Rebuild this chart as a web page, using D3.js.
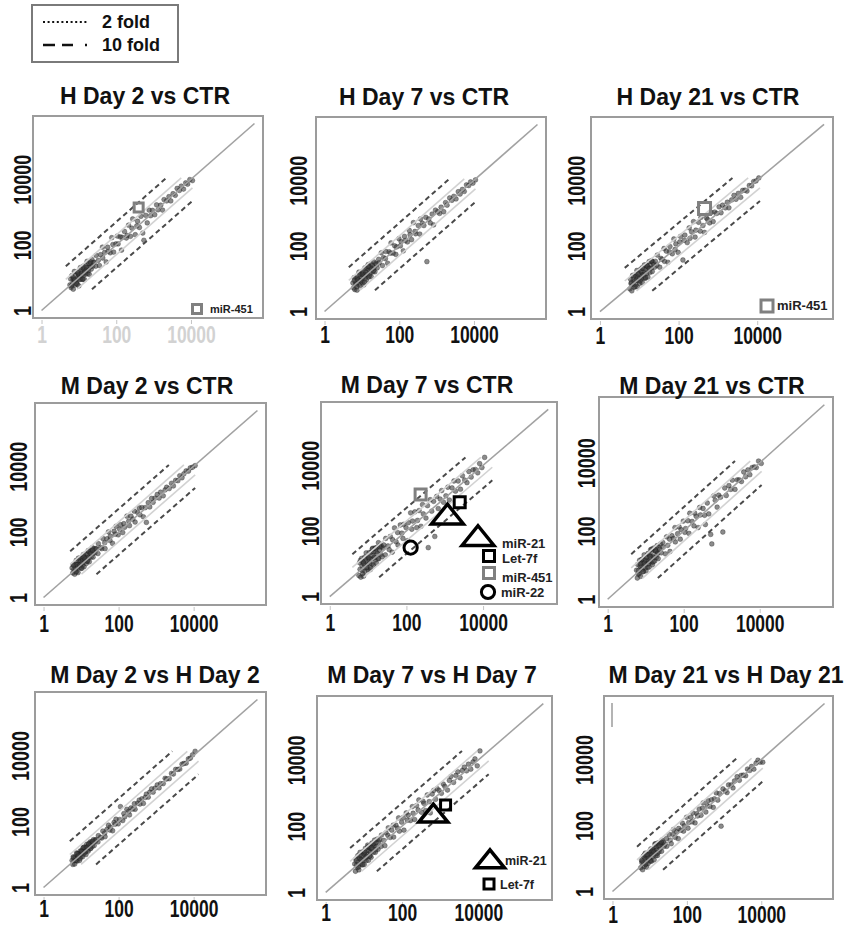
<!DOCTYPE html>
<html>
<head>
<meta charset="utf-8">
<script src="https://cdn.jsdelivr.net/npm/d3@7"></script>
<style>
  body { margin: 0; background: #fff; }
  svg { display: block; }
  text { font-family: "Liberation Sans", Arial, Helvetica, sans-serif; font-weight: bold; }
</style>
</head>
<body>
<svg id="chart" width="845" height="927"></svg>
<script>
// ---- data -------------------------------------------------------------
const panelTitles = [
  "H Day 2 vs CTR", "H Day 7 vs CTR", "H Day 21 vs CTR",
  "M Day 2 vs CTR", "M Day 7 vs CTR", "M Day 21 vs CTR",
  "M Day 2 vs H Day 2", "M Day 7 vs H Day 7", "M Day 21 vs H Day 21"
];

const tickValues = [1, 100, 10000];
const tickLabels = ["1", "100", "10000"];

// Both axes span 1 .. 10^5.7
const axisMaxLog = 5.7;

// Fold-change guides (log10 offset from the identity line)
const foldNames = ["2 fold", "10 fold"];
const foldOffsets = [0.3, 0.7];

// log10 expression on the x axis: low-abundance miRNAs, then the rest
const clusterLogX = [0.76,0.78,0.79,0.81,0.83,0.84,0.85,0.87,0.88,0.90,0.91,0.92,0.94,0.95,0.96,0.98,0.99,1.00,1.01,1.03,1.04,1.05,1.06,1.08,1.09,1.10,1.12,1.13,1.14,1.15,1.17,1.18,1.19,1.21,1.22,1.24,1.25,1.27,1.28,1.30,1.32,1.33,1.35,1.37,1.39,
  0.80,0.86,0.89,0.93,0.97,1.02,1.07,1.11,1.16,1.20,1.26,1.31];
const bandLogX = [1.41,1.45,1.46,1.52,1.55,1.58,1.63,1.64,1.69,1.73,1.77,1.78,1.84,1.88,1.91,1.93,1.99,2.03,2.05,2.11,
  2.14,2.16,2.22,2.27,2.29,2.33,2.38,2.42,2.44,2.51,2.55,2.57,2.62,2.66,2.71,2.74,2.79,2.83,2.88,2.92,
  2.97,3.03,3.08,3.12,3.19,3.24,3.28,3.35,3.41,3.46,3.52,3.58,3.63,3.69,3.74,3.80,3.86,3.91,3.97,4.04];

// log10 expression on the y axis, per panel
const h2ClusterLogY = [0.78,0.96,0.70,1.06,0.80,0.94,0.65,0.93,1.19,0.78,0.92,1.07,0.88,1.17,0.80,1.02,1.11,0.75,1.09,1.01,1.31,0.95,1.23,1.08,0.95,1.19,1.35,1.08,1.27,0.94,1.22,1.37,1.11,1.23,1.50,1.13,1.32,1.43,1.10,1.33,1.43,1.26,1.55,1.35,1.47,
  0.75,0.99,0.93,0.83,1.17,0.95,1.13,0.96,1.17,1.32,1.22,1.48];
const h2BandLogY = [1.46,1.35,1.68,1.53,1.37,1.70,1.93,1.60,1.77,1.48,1.93,1.80,1.76,2.22,2.01,1.78,2.03,2.27,2.03,2.24,
  1.84,2.23,2.41,2.21,2.29,2.60,2.26,2.51,2.79,2.31,2.58,2.72,2.53,2.87,2.36,2.14,2.90,2.67,3.06,2.89,
  3.05,2.92,3.22,3.07,3.21,3.06,3.38,3.34,3.47,3.34,3.56,3.51,3.72,3.66,3.79,3.70,3.89,3.85,3.99,3.96];

const h7ClusterLogY = [0.87,0.72,1.03,0.67,0.88,1.03,0.84,0.65,1.01,0.97,0.82,1.20,0.94,0.78,1.12,1.07,0.94,1.21,0.89,1.06,1.18,0.81,1.12,1.33,1.01,1.12,0.96,1.31,1.24,1.12,1.43,1.05,1.26,1.36,1.16,1.46,1.06,1.31,1.40,1.21,1.51,1.34,1.21,1.47,1.44,
  0.95,0.76,0.96,1.14,0.93,1.14,0.89,1.19,1.39,1.09,1.29,1.25];
const h7BandLogY = [1.33,1.59,1.48,1.79,1.40,1.64,1.61,1.83,1.47,1.82,1.78,2.09,1.78,2.00,1.74,1.97,2.22,2.00,2.13,1.85,
  2.29,2.16,2.12,2.47,2.34,2.19,2.71,2.44,2.37,2.62,2.36,2.82,2.69,2.62,2.87,1.52,2.82,2.70,2.97,2.64,
  3.09,3.04,2.99,3.18,3.04,3.32,3.24,3.46,3.39,3.51,3.43,3.65,3.58,3.72,3.66,3.86,3.84,3.95,3.91,4.01];

const h21ClusterLogY = [0.69,0.98,0.85,0.63,1.10,0.82,0.97,0.74,0.92,1.12,0.82,1.07,1.25,0.75,1.04,0.94,1.17,1.01,0.86,1.28,1.13,0.99,1.20,0.87,1.12,1.30,1.02,1.42,1.20,1.01,1.28,1.42,1.16,1.37,1.05,1.32,1.52,1.19,1.41,1.32,1.53,1.22,1.50,1.43,1.35,
  0.88,1.08,0.76,0.96,1.14,0.93,1.33,1.11,1.04,1.39,1.31,1.55];
const h21BandLogY = [1.53,1.41,1.72,1.35,1.62,1.59,1.92,1.53,1.84,1.50,1.82,1.98,1.76,2.21,1.89,2.06,1.80,2.12,2.29,1.57,
  2.17,2.33,2.10,2.55,2.23,2.43,2.74,2.27,2.48,2.72,2.45,2.87,2.62,2.41,2.85,2.80,2.70,3.02,2.74,3.03,
  2.99,3.19,3.01,3.24,3.16,3.33,3.16,3.40,3.54,3.42,3.60,3.48,3.69,3.70,3.67,3.84,3.83,3.96,3.98,4.07];

const m2ClusterLogY = [0.90,0.75,1.00,0.86,0.71,1.01,0.85,1.13,0.79,1.00,0.94,0.76,1.13,1.02,0.91,1.21,1.11,0.89,1.03,1.19,0.97,1.14,1.31,0.94,1.13,1.23,1.10,1.33,1.04,1.21,1.32,1.12,1.43,1.22,1.09,1.35,1.43,1.23,1.36,1.52,1.23,1.36,1.49,1.36,1.49,
  0.99,0.78,1.00,1.20,0.99,0.89,1.23,1.17,1.11,1.41,1.35,1.44];
const m2BandLogY = [1.48,1.34,1.64,1.52,1.49,1.80,1.67,1.49,1.79,2.00,1.74,1.87,1.65,2.02,1.93,2.17,1.91,2.08,2.22,1.98,
  2.25,2.14,2.48,2.33,2.19,2.48,2.39,2.63,2.30,2.59,2.73,2.52,2.74,2.46,2.74,2.29,2.89,2.76,3.02,2.90,
  3.03,3.14,3.03,3.21,3.10,3.28,3.36,3.32,3.48,3.40,3.57,3.56,3.71,3.65,3.77,3.86,3.85,3.95,3.97,4.02];

const m7ClusterLogY = [0.64,1.03,0.83,0.59,1.16,0.94,0.79,1.06,0.62,0.97,1.20,0.77,1.07,1.33,0.87,1.00,1.21,0.81,1.16,1.34,1.00,1.14,0.82,1.35,1.14,0.99,1.47,1.25,0.96,1.36,1.18,1.48,1.11,1.37,1.01,1.50,1.31,1.64,1.15,1.41,1.56,1.28,1.53,1.21,1.48,
  1.10,0.69,1.01,1.16,0.89,1.19,0.87,1.45,1.20,1.46,1.16,1.51];
const m7BandLogY = [1.57,1.27,1.77,1.54,1.43,1.83,1.35,1.73,2.09,1.67,1.95,1.57,2.18,1.93,1.77,2.20,2.10,1.70,2.25,2.55,
  2.05,2.30,2.58,2.10,2.32,2.62,2.14,2.80,2.52,2.39,2.77,1.49,2.95,2.60,2.90,1.83,3.05,2.68,2.97,3.23,
  2.87,3.07,3.33,2.94,3.31,3.52,3.21,3.52,3.27,3.68,3.55,3.47,3.81,3.64,3.86,3.87,3.77,4.05,3.93,4.24];

const m21ClusterLogY = [0.85,0.62,1.02,0.84,0.74,1.14,0.97,0.67,0.94,1.08,0.88,1.18,0.81,1.05,1.30,0.91,1.14,1.01,0.83,1.25,1.12,0.94,1.34,1.12,0.94,1.29,1.10,1.45,1.25,1.07,1.41,1.01,1.26,1.50,1.22,1.12,1.45,1.40,1.22,1.57,1.37,1.19,1.52,1.46,1.62,
  0.74,1.04,1.16,0.81,1.06,1.23,1.04,1.25,1.47,1.10,1.42,1.33];
const m21BandLogY = [1.36,1.66,1.53,1.33,1.83,1.58,1.76,1.40,1.86,1.78,2.10,1.68,1.92,2.12,1.76,2.04,2.29,1.96,2.07,2.30,
  1.93,2.52,2.28,2.15,2.52,2.43,2.10,2.69,2.47,2.66,2.46,2.19,2.82,2.50,1.90,1.62,3.03,2.90,2.70,3.05,
  2.99,1.97,3.26,3.04,3.33,3.22,3.49,3.22,3.50,3.50,3.45,3.73,3.59,3.79,3.65,3.86,3.88,3.86,4.05,3.98];

const m2h2ClusterLogY = [0.82,0.70,0.93,0.81,0.71,0.93,0.88,0.82,1.05,0.80,0.96,1.03,0.91,1.03,0.82,1.11,1.00,0.93,1.11,1.07,0.93,1.20,1.08,1.02,1.21,1.08,1.19,1.00,1.23,1.31,1.13,1.23,1.10,1.32,1.22,1.38,1.18,1.33,1.38,1.25,1.35,1.45,1.27,1.44,1.41,
  0.90,0.82,1.02,0.95,0.88,1.10,1.22,1.08,1.22,1.32,1.19,1.40];
const m2h2BandLogY = [1.45,1.38,1.57,1.52,1.50,1.71,1.65,1.54,1.76,1.89,1.74,1.83,1.72,1.97,1.92,2.07,1.93,2.06,2.45,2.03,
  2.24,2.14,2.37,2.31,2.20,2.41,2.38,2.54,2.37,2.56,2.65,2.53,2.69,2.55,2.73,2.83,2.74,2.89,2.99,2.89,
  3.01,3.11,3.02,3.15,3.15,3.31,3.29,3.30,3.46,3.44,3.58,3.58,3.59,3.74,3.76,3.77,3.90,3.92,4.02,4.13];

const m7h7ClusterLogY = [0.86,0.64,1.01,0.83,0.75,1.11,0.91,0.68,1.02,1.21,0.86,1.01,1.14,0.83,1.00,1.23,0.97,1.16,0.84,1.14,1.33,1.05,0.96,1.27,1.16,1.43,0.97,1.25,1.38,1.09,1.34,1.21,1.06,1.49,1.31,1.45,1.21,1.41,1.58,1.21,1.50,1.38,1.61,1.30,1.52,
  0.96,0.77,1.13,0.98,0.84,1.22,1.08,1.38,1.10,1.35,1.48,1.29];
const m7h7BandLogY = [1.59,1.39,1.73,1.57,1.41,1.80,1.72,1.95,1.66,1.88,2.03,1.67,2.03,1.94,2.25,1.85,2.12,2.26,1.88,2.40,
  2.18,2.33,2.17,2.59,2.39,2.20,2.62,2.49,2.79,2.42,2.75,2.69,2.47,2.94,2.74,2.40,2.97,3.08,2.81,3.13,
  3.08,2.99,3.27,3.20,3.09,3.38,3.50,3.32,3.53,3.64,3.46,3.68,3.78,3.67,3.87,3.72,3.94,4.03,3.82,4.27];

const m21h21ClusterLogY = [0.72,0.95,0.87,0.66,1.07,0.87,0.76,1.00,1.16,0.84,1.01,0.74,1.13,1.00,0.85,1.20,0.99,1.14,0.94,1.29,1.13,0.92,1.22,1.12,1.06,1.31,0.96,1.24,1.44,1.17,1.09,1.36,1.26,1.09,1.47,1.37,1.20,1.47,1.29,1.46,1.22,1.56,1.41,1.49,1.37,
  0.92,1.11,0.82,1.11,1.01,0.92,1.28,1.20,1.44,1.16,1.40,1.50];
const m21h21BandLogY = [1.44,1.60,1.37,1.73,1.56,1.45,1.73,1.88,1.64,1.81,1.60,1.91,1.86,2.07,1.83,1.99,2.25,1.92,2.09,2.25,
  2.11,2.38,2.08,2.36,2.29,2.50,2.31,2.53,2.69,2.41,2.60,2.75,2.58,2.78,2.55,2.81,2.99,2.77,2.97,1.98,
  3.11,3.05,3.00,3.23,3.23,3.14,3.35,3.48,3.37,3.52,3.53,3.51,3.71,3.67,3.79,3.71,3.89,3.98,3.92,3.92];

const panelClusterY = [h2ClusterLogY, h7ClusterLogY, h21ClusterLogY, m2ClusterLogY, m7ClusterLogY, m21ClusterLogY, m2h2ClusterLogY, m7h7ClusterLogY, m21h21ClusterLogY];
const panelBandY = [h2BandLogY, h7BandLogY, h21BandLogY, m2BandLogY, m7BandLogY, m21BandLogY, m2h2BandLogY, m7h7BandLogY, m21h21BandLogY];

// Highlighted miRNAs: panel index, name, log10 x, log10 y
const highlightPanel = [0, 2, 4, 4, 4, 4, 7, 7];
const highlightName  = ["miR-451", "miR-451", "miR-451", "Let-7f", "miR-21", "miR-22", "miR-21", "Let-7f"];
const highlightLogX  = [2.60, 2.66, 2.37, 3.39, 3.07, 2.11, 2.82, 3.14];
const highlightLogY  = [3.14, 3.14, 3.11, 2.87, 2.44, 1.49, 2.33, 2.64];

// ---- styles per miRNA -------------------------------------------------
const markerStyle = {
  "miR-451": { shape: "square", color: "#808080" },
  "Let-7f":  { shape: "square", color: "#000" },
  "miR-21":  { shape: "triangle", color: "#000" },
  "miR-22":  { shape: "circle", color: "#000" }
};

// ---- layout -----------------------------------------------------------
// frame box; title centre/baseline; y-label gap; x-label baseline gap; in-panel key
const layout = [
  { x: 33,  y: 116, w: 230, h: 202, tx: 145, ty: 104, yg: 2,  xb: 25, xlc: "#d2d2d2", size: 9,
    legend: [{ name: "miR-451", dx: 164, dy: 193, tdx: 13, fs: 11 }] },
  { x: 316, y: 117, w: 230, h: 202, tx: 424, ty: 105, yg: 9,  xb: 24, size: 10, legend: [] },
  { x: 591, y: 117, w: 242, h: 202, tx: 708, ty: 105, yg: 6,  xb: 25, size: 12,
    legend: [{ name: "miR-451", dx: 176, dy: 189, tdx: 10, fs: 13 }] },
  { x: 35,  y: 403, w: 231, h: 202, tx: 147, ty: 394, yg: 8,  xb: 27, size: 10, legend: [] },
  { x: 321, y: 402, w: 236, h: 202, tx: 427, ty: 393, yg: 2,  xb: 27, size: 11,
    legend: [
      { name: "miR-21",  dx: 157, dy: 136, tdx: 24, tdy: 10, fs: 13 },
      { name: "Let-7f",  dx: 168, dy: 154, tdx: 13, tdy: 7,  fs: 13 },
      { name: "miR-451", dx: 168, dy: 171, tdx: 13, tdy: 9,  fs: 13 },
      { name: "miR-22",  dx: 167, dy: 190, tdx: 13, tdy: 5,  fs: 13 }
    ] },
  { x: 599, y: 397, w: 234, h: 210, tx: 712, ty: 394, yg: 4,  xb: 25, size: 10, legend: [] },
  { x: 35,  y: 692, w: 231, h: 203, tx: 155, ty: 683, yg: 6,  xb: 22, size: 10, legend: [] },
  { x: 317, y: 696, w: 235, h: 204, tx: 432, ty: 683, yg: 12, xb: 21, size: 10,
    legend: [
      { name: "miR-21", dx: 173, dy: 165, tdx: 15, tdy: 4, fs: 12.5 },
      { name: "Let-7f", dx: 172, dy: 188, tdx: 11, tdy: 5, fs: 12.5 }
    ] },
  { x: 604, y: 696, w: 229, h: 203, tx: 726, ty: 683, yg: 11, xb: 24, size: 10, legend: [],
    mark: { x1: 612, y1: 703, x2: 612, y2: 727 } }
];

// ---- drawing ----------------------------------------------------------
const svg = d3.select("#chart");
const lo = Math.pow(10, -0.04 * axisMaxLog), hi = Math.pow(10, 1.04 * axisMaxLog);
const p10 = v => Math.pow(10, v);

function markerPath(shape, s) {
  if (shape === "square") return `M${-s/2},${-s/2}h${s}v${s}h${-s}Z`;
  if (shape === "triangle") { const w = s * 1.45, h = s * 0.9; return `M0,${-h*0.62}L${w/2},${h*0.38}L${-w/2},${h*0.38}Z`; }
  return d3.arc()({ innerRadius: 0, outerRadius: s / 2, startAngle: 0, endAngle: 2 * Math.PI });
}

function drawMarker(g, name, cx, cy, size) {
  const st = markerStyle[name];
  const s = st.shape === "triangle" ? size * 2 : (st.shape === "circle" ? size * 1.2 : size);
  g.append("path")
    .attr("transform", `translate(${cx},${cy})`)
    .attr("d", markerPath(st.shape, s))
    .attr("fill", "none")
    .attr("stroke", st.color)
    .attr("stroke-width", st.shape === "triangle" ? 3.5 : 3);
}

panelTitles.forEach((title, i) => {
  const L = layout[i];
  const g = svg.append("g");
  const x = d3.scaleLog().domain([lo, hi]).range([L.x, L.x + L.w]);
  const y = d3.scaleLog().domain([lo, hi]).range([L.y + L.h, L.y]);

  const pts = d3.zip(clusterLogX, panelClusterY[i]).concat(d3.zip(bandLogX, panelBandY[i]));
  const allLogs = pts.flat();
  const dMin = d3.min(allLogs), dMax = d3.max(allLogs);

  // miRNA points
  g.append("g").selectAll("circle").data(pts).join("circle")
    .attr("cx", d => x(p10(d[0])))
    .attr("cy", d => y(p10(d[1])))
    .attr("r", 2.4)
    .attr("fill", "rgba(62,62,62,0.6)")
    .attr("stroke", "rgba(25,25,25,0.55)")
    .attr("stroke-width", 0.6);

  // identity line
  g.append("line")
    .attr("x1", x(1)).attr("y1", y(1))
    .attr("x2", x(p10(axisMaxLog))).attr("y2", y(p10(axisMaxLog)))
    .attr("stroke", "#a2a2a2").attr("stroke-width", 1.6);

  // fold-change guides over the data range
  foldOffsets.forEach((off, k) => {
    [1, -1].forEach(sgn => {
      const x0 = sgn > 0 ? dMin : dMin + off;
      const x1 = sgn > 0 ? dMax - off : dMax;
      g.append("line")
        .attr("x1", x(p10(x0))).attr("y1", y(p10(x0 + sgn * off)))
        .attr("x2", x(p10(x1))).attr("y2", y(p10(x1 + sgn * off)))
        .attr("stroke", k === 0 ? "#d2d2d2" : "#4a4a4a")
        .attr("stroke-width", k === 0 ? 1.6 : 2)
        .attr("stroke-dasharray", k === 0 ? null : "5,3.5");
    });
  });

  // highlighted miRNAs
  highlightPanel.forEach((p, j) => {
    if (p !== i) return;
    drawMarker(g, highlightName[j], x(p10(highlightLogX[j])), y(p10(highlightLogY[j])), L.size);
  });

  // in-panel key
  L.legend.forEach(e => {
    drawMarker(g, e.name, L.x + e.dx, L.y + e.dy, L.size);
    g.append("text")
      .attr("x", L.x + e.dx + e.tdx).attr("y", L.y + e.dy + (e.tdy || 4))
      .attr("font-size", e.fs).attr("fill", "#222")
      .text(e.name);
  });

  if (L.mark) {
    g.append("line").attr("x1", L.mark.x1).attr("y1", L.mark.y1).attr("x2", L.mark.x2).attr("y2", L.mark.y2)
      .attr("stroke", "#b4b4b4").attr("stroke-width", 2);
  }

  // frame
  g.append("rect")
    .attr("x", L.x).attr("y", L.y).attr("width", L.w).attr("height", L.h)
    .attr("fill", "none").attr("stroke", "#9c9c9c").attr("stroke-width", 2);

  // axes
  const xa = g.append("g").attr("transform", `translate(0,${L.y + L.h})`)
    .call(d3.axisBottom(x).tickValues(tickValues).tickFormat((d, k) => tickLabels[k]).tickSize(5).tickPadding(0));
  xa.select(".domain").remove();
  xa.selectAll(".tick line").attr("stroke", "#c4c4c4").attr("y1", 2).attr("y2", 6);
  xa.selectAll(".tick text")
    .attr("y", L.xb).attr("dy", null)
    .attr("font-size", 23).attr("fill", L.xlc || "#111")
    .attr("font-family", "'Liberation Sans', Arial, sans-serif").attr("font-weight", "bold")
    .attr("transform", "scale(0.76,1)");

  const ya = g.append("g").attr("transform", `translate(${L.x},0)`)
    .call(d3.axisLeft(y).tickValues(tickValues).tickFormat((d, k) => tickLabels[k]).tickSize(0).tickPadding(0));
  ya.select(".domain").remove();
  ya.selectAll(".tick text")
    .attr("x", 0).attr("y", -L.yg).attr("dy", null)
    .attr("text-anchor", "middle")
    .attr("font-size", 23).attr("fill", "#111")
    .attr("font-family", "'Liberation Sans', Arial, sans-serif").attr("font-weight", "bold")
    .attr("transform", "rotate(-90) scale(0.78,1)");

  // title
  svg.append("text")
    .attr("x", L.tx).attr("y", L.ty)
    .attr("text-anchor", "middle")
    .attr("font-size", 23).attr("fill", "#111")
    .text(title);
});

// ---- fold-change key --------------------------------------------------
const key = svg.append("g");
key.append("rect").attr("x", 32).attr("y", 5).attr("width", 146).attr("height", 57)
  .attr("fill", "#fff").attr("stroke", "#7a7a7a").attr("stroke-width", 2);
foldNames.forEach((name, k) => {
  const yy = k === 0 ? 22 : 45;
  key.append("line").attr("x1", 43).attr("x2", 89).attr("y1", yy).attr("y2", yy)
    .attr("stroke", "#111").attr("stroke-width", k === 0 ? 2.2 : 2.6)
    .attr("stroke-dasharray", k === 0 ? "2,2.6" : "12,7,11,12,2,60");
  key.append("text").attr("x", 102).attr("y", yy + 6)
    .attr("font-size", 18).attr("fill", "#111").text(name);
});
</script>
</body>
</html>
